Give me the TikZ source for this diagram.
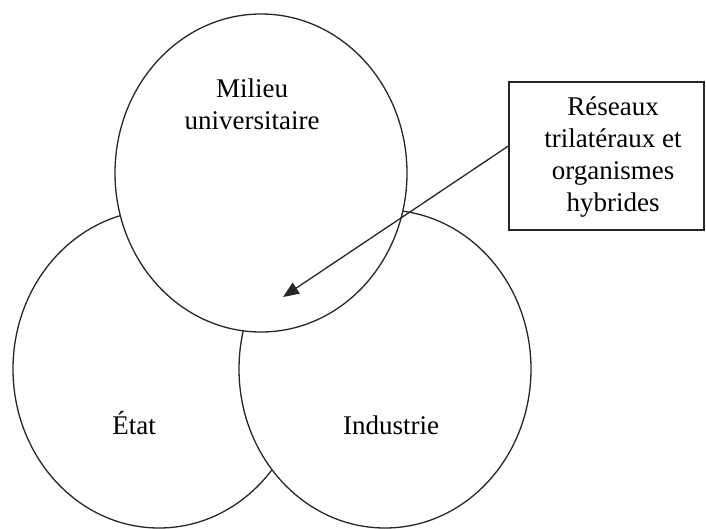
\documentclass[tikz,border=0pt]{standalone}
\usepackage{fontspec}
\setmainfont{Liberation Serif}
\usetikzlibrary{shapes.geometric,arrows.meta}
\begin{document}
\begin{tikzpicture}[x=1pt,y=-1pt,
  venn/.style={ellipse,draw=black!85,line width=1.3pt,fill=white,minimum width=292pt,minimum height=318pt,inner sep=0pt},
  lbl/.style={font=\fontsize{27}{32}\selectfont,align=center,inner sep=0pt},
  framebox/.style={draw=black!85,line width=1.3pt,minimum width=195pt,minimum height=148pt,inner sep=0pt},
  pointer/.style={draw=black!85,line width=1.3pt,-{Triangle[length=16pt,width=13pt]}}]
\useasboundingbox (0,0) rectangle (706,528);
\node[venn] (etat) at (159,369) {};
\node[venn] (industrie) at (385,369) {};
\node[venn] (milieu) at (261,173) {};
\node[lbl] (milieulbl) at (252,104) {Milieu\\universitaire};
\node[lbl,anchor=base] (etatlbl) at (134,434) {État};
\node[lbl,anchor=base] (industrielbl) at (391,434) {Industrie};
\node[framebox] (box) at (606.5,156) {};
\node[lbl] (boxlbl) at (613,157) {Réseaux\\trilatéraux et\\organismes\\hybrides};
\coordinate (tip) at (283,297);
\draw[pointer] ([yshift=10pt]box.west) -- (tip);
\end{tikzpicture}
\end{document}
